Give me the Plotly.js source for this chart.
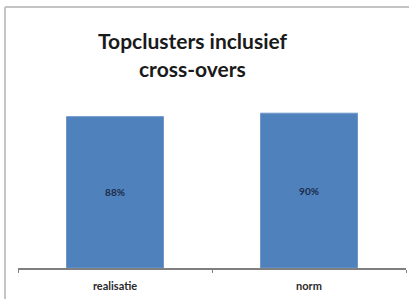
<!DOCTYPE html>
<html>
<head>
<meta charset="utf-8">
<script src="https://cdn.plot.ly/plotly-3.0.1.min.js"></script>
<style>
html,body{margin:0;padding:0;background:#fff;}
#chart{width:409px;height:299px;}
</style>
</head>
<body>
<div id="chart"></div>
<script>
var categories = ['realisatie', 'norm'];
var values = [88, 90];
var valueLabels = ['88%', '90%'];
var titleLines = ['Topclusters inclusief', 'cross-overs'];

var trace = {
  type: 'bar',
  x: categories,
  y: values,
  text: valueLabels,
  textposition: 'inside',
  insidetextanchor: 'middle',
  textangle: 0,
  textfont: {family: 'Lato, sans-serif', size: 10, color: '#1c2b47', weight: 'bold'},
  marker: {color: '#4f81bd', line: {color: '#6f97c8', width: 1}},
  hoverinfo: 'none'
};

var layout = {
  width: 409,
  height: 299,
  margin: {l: 18, r: 3, t: 96, b: 31, pad: 0},
  paper_bgcolor: '#ffffff',
  plot_bgcolor: '#ffffff',
  showlegend: false,
  bargap: 0.5,
  xaxis: {
    type: 'category',
    showline: true,
    linecolor: '#7f7f7f',
    linewidth: 2,
    ticks: 'outside',
    tickson: 'boundaries',
    ticklen: 3,
    tickcolor: '#7f7f7f',
    tickwidth: 1,
    ticklabelstandoff: 7,
    showgrid: false,
    zeroline: false,
    tickfont: {family: 'Lato, sans-serif', size: 11, color: '#2a2a2a', weight: 'bold'},
    fixedrange: true
  },
  yaxis: {
    range: [0, 100],
    visible: false,
    showgrid: false,
    zeroline: false,
    fixedrange: true
  },
  annotations: [
    {text: titleLines[0], xref: 'paper', yref: 'paper', x: 0.451, y: 1.325,
     xanchor: 'center', yanchor: 'middle', showarrow: false,
     font: {family: 'Lato, sans-serif', size: 21, color: '#1a1a1a', weight: 'bold'}},
    {text: titleLines[1], xref: 'paper', yref: 'paper', x: 0.451, y: 1.16,
     xanchor: 'center', yanchor: 'middle', showarrow: false,
     font: {family: 'Lato, sans-serif', size: 21, color: '#1a1a1a', weight: 'bold'}}
  ],
  shapes: [
    {type: 'line', xref: 'paper', yref: 'paper', x0: -0.0335, x1: 1.01, y0: 1.517, y1: 1.517,
     line: {color: '#c4c4c4', width: 2}},
    {type: 'line', xref: 'paper', yref: 'paper', x0: -0.0335, x1: -0.0335, y0: 1.517, y1: -0.2,
     line: {color: '#c4c4c4', width: 2}}
  ]
};

Plotly.newPlot('chart', [trace], layout, {displayModeBar: false, staticPlot: true});
</script>
</body>
</html>
